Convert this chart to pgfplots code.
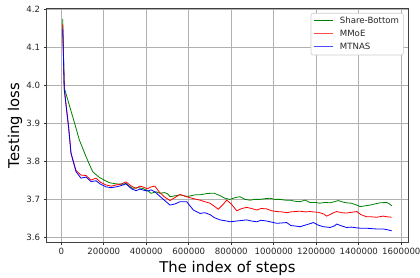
\documentclass[border=0pt]{standalone}
\usepackage{fontspec}
\setmainfont{DejaVu Sans}
\usepackage{pgfplots}
\pgfplotsset{compat=1.18}
\definecolor{mplgreen}{rgb}{0,0.5,0}
\definecolor{gridgray}{HTML}{B0B0B0}
\definecolor{legred}{rgb}{1,0.3,0.3}
\definecolor{legblue}{rgb}{0.3,0.3,1}
\begin{document}
\begin{tikzpicture}
\begin{axis}[
  name=ax,
  at={(0,0)}, anchor=south west,
  scale only axis,
  width=361.6pt, height=233.3pt,
  xmin=-68700, xmax=1632900,
  ymin=3.5877, ymax=4.2027,
  xtick={0,200000,400000,600000,800000,1000000,1200000,1400000,1600000},
  ytick={3.6,3.7,3.8,3.9,4.0,4.1,4.2},
  scaled x ticks=false,
  /pgf/number format/assume math mode=true,
  xticklabel style={/pgf/number format/fixed,/pgf/number format/1000 sep={}},
  yticklabel style={/pgf/number format/fixed,/pgf/number format/precision=1,/pgf/number format/fixed zerofill},
  ticklabel style={font=\fontsize{8.6}{10}\selectfont, color=black!85},
  tick align=outside, tick pos=left,
  major tick length=3pt,
  major tick style={black!80, line width=0.7pt},
  grid=major,
  major grid style={gridgray, line width=0.7pt},
  axis line style={black!75, line width=0.8pt},
  xlabel={The index of steps},
  ylabel={Testing loss},
  label style={font=\fontsize{14.8}{17}\selectfont},
  xlabel style={at={(axis description cs:0.5,-0.1299)}, anchor=base},
  ylabel style={at={(axis description cs:-0.0766,0.5)}, anchor=base},
]
\addplot[color=mplgreen, line width=0.8pt] coordinates {
(6600,4.175) (14000,3.994) (69200,3.888) (84700,3.857) (116200,3.813) (130000,3.795)
(147800,3.773) (179000,3.758) (205000,3.750) (226000,3.744) (257400,3.741) (290000,3.740)
(304500,3.742) (320000,3.735) (336000,3.729) (360000,3.731) (383000,3.729) (410000,3.722)
(422000,3.716) (445700,3.720) (465000,3.716) (484700,3.718) (500000,3.715) (511500,3.707)
(540000,3.710) (558600,3.712) (590000,3.708) (605700,3.709) (630000,3.712) (652700,3.712)
(680000,3.715) (700000,3.716) (720000,3.716) (746800,3.710) (770000,3.703) (793900,3.700)
(820000,3.705) (841000,3.707) (865000,3.700) (888000,3.698) (910000,3.700) (935100,3.700)
(960000,3.702) (982100,3.703) (1005000,3.700) (1029200,3.700) (1055000,3.698) (1076300,3.698)
(1100000,3.695) (1123300,3.694) (1146900,3.698) (1170400,3.692) (1195000,3.692) (1217500,3.690)
(1240000,3.692) (1264500,3.691) (1285000,3.694) (1303600,3.697) (1325000,3.693) (1341900,3.691)
(1365000,3.690) (1390200,3.685) (1405800,3.681) (1430000,3.683) (1452700,3.685) (1475000,3.688)
(1499800,3.691) (1531300,3.692) (1545000,3.688) (1554800,3.683)
};
\addplot[color=red, line width=0.8pt] coordinates {
(6600,4.162) (14000,3.990) (34800,3.888) (45600,3.822) (69200,3.776) (92700,3.764)
(116200,3.763) (139800,3.751) (163300,3.756) (185000,3.745) (210400,3.738) (235000,3.735)
(257400,3.738) (280000,3.740) (304500,3.746) (330000,3.735) (351500,3.729) (370000,3.735)
(383100,3.733) (405000,3.728) (422100,3.733) (440000,3.735) (460000,3.720) (484700,3.707)
(511500,3.697) (535000,3.705) (558600,3.713) (590100,3.707) (621200,3.702) (652700,3.698)
(675000,3.694) (699800,3.690) (720000,3.682) (738800,3.674) (760000,3.686) (778400,3.698)
(800000,3.688) (825400,3.670) (850000,3.676) (872500,3.679) (895000,3.676) (919500,3.672)
(940000,3.676) (966600,3.675) (990000,3.670) (1013700,3.668) (1040000,3.667) (1060700,3.665)
(1080000,3.667) (1100000,3.668) (1123300,3.669) (1146900,3.667) (1170400,3.668) (1185900,3.667)
(1210000,3.666) (1233000,3.662) (1249000,3.656) (1264500,3.660) (1285000,3.666) (1296000,3.668)
(1320000,3.665) (1341900,3.664) (1365000,3.666) (1390200,3.668) (1410000,3.660) (1437200,3.654)
(1460000,3.654) (1484300,3.653) (1515300,3.656) (1535000,3.654) (1554800,3.653)
};
\addplot[color=blue, line width=0.8pt] coordinates {
(6600,4.150) (14000,3.990) (34800,3.888) (45600,3.822) (69200,3.773) (92700,3.756)
(116200,3.759) (139800,3.747) (163300,3.749) (185000,3.740) (210400,3.733) (235000,3.731)
(257400,3.733) (280000,3.736) (304500,3.741) (330000,3.728) (351500,3.723) (370000,3.727)
(383100,3.725) (405000,3.722) (422100,3.725) (440000,3.720) (460000,3.710) (484700,3.698)
(511500,3.685) (535000,3.688) (558600,3.694) (590100,3.694) (621200,3.672) (652700,3.663)
(675000,3.665) (699800,3.660) (720000,3.652) (746800,3.646) (778400,3.643) (793900,3.641)
(825400,3.643) (841000,3.644) (872500,3.646) (895000,3.643) (919500,3.641) (940000,3.645)
(966600,3.643) (990000,3.640) (1013700,3.637) (1040000,3.638) (1060700,3.639) (1080000,3.631)
(1100000,3.630) (1123300,3.628) (1146900,3.632) (1170400,3.636) (1185900,3.639) (1210000,3.632)
(1233000,3.628) (1249000,3.627) (1264500,3.626) (1285000,3.630) (1296000,3.635) (1320000,3.630)
(1341900,3.626) (1365000,3.627) (1390200,3.625) (1410000,3.624) (1437200,3.624) (1460000,3.623)
(1484300,3.622) (1515300,3.622) (1535000,3.620) (1554800,3.617)
};
\end{axis}
% legend
\path[draw=black!20, fill=white, rounded corners=2pt, line width=0.6pt]
  (ax.north east) ++(-97.3pt,-4.6pt) rectangle ++(92.3pt,-41.7pt);
\begin{scope}[line width=1.2pt]
\draw[color=mplgreen] ([shift={(-94.3pt,-12pt)}]ax.north east) -- ([shift={(-75.3pt,-12pt)}]ax.north east);
\draw[color=legred] ([shift={(-94.3pt,-24.6pt)}]ax.north east) -- ([shift={(-75.3pt,-24.6pt)}]ax.north east);
\draw[color=legblue] ([shift={(-94.3pt,-38pt)}]ax.north east) -- ([shift={(-75.3pt,-38pt)}]ax.north east);
\end{scope}
\path (ax.north east) ++(-68.6pt,-12pt) node[anchor=west, inner sep=0pt, font=\fontsize{8.6}{10}\selectfont, text=black!85] {Share-Bottom};
\path (ax.north east) ++(-68.6pt,-24.6pt) node[anchor=west, inner sep=0pt, font=\fontsize{8.6}{10}\selectfont, text=black!85] {MMoE};
\path (ax.north east) ++(-68.6pt,-38pt) node[anchor=west, inner sep=0pt, font=\fontsize{8.6}{10}\selectfont, text=black!85] {MTNAS};
\pgfresetboundingbox
\path (ax.south west) ++(-46.7pt,-36pt) rectangle ++(420pt,278pt);
\end{tikzpicture}
\end{document}
